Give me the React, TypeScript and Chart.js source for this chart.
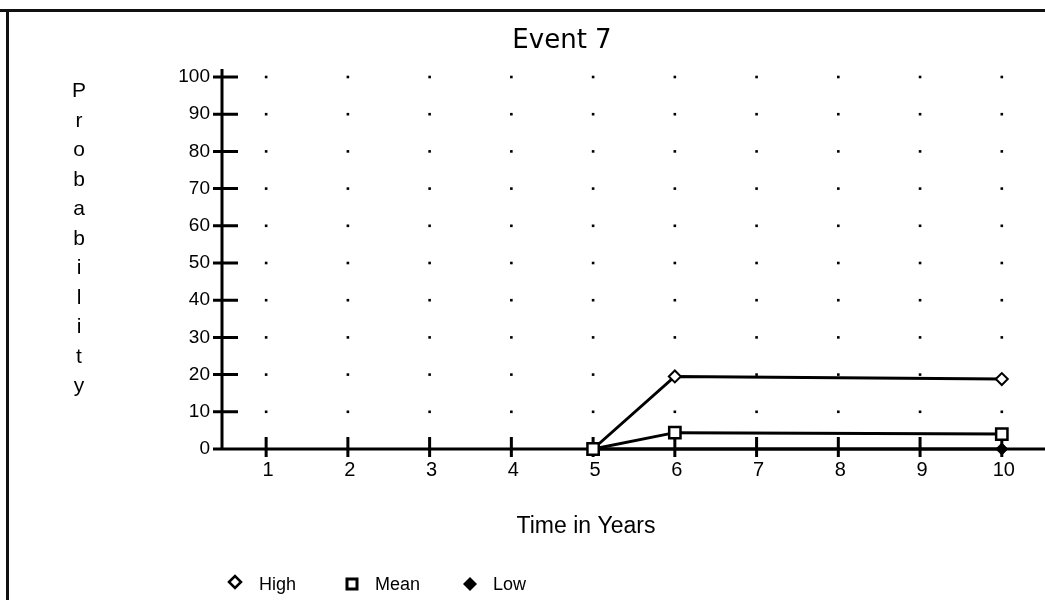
import React, { useEffect, useRef } from 'react';
import { Chart, registerables } from 'chart.js';

Chart.register(...registerables);

const years = [5, 6, 10];
const highValues = [0, 19.5, 18.8];
const meanValues = [0, 4.4, 4.0];
const lowValues = [0, 0, 0];
const xTicks = [1, 2, 3, 4, 5, 6, 7, 8, 9, 10];
const yTicks = [0, 10, 20, 30, 40, 50, 60, 70, 80, 90, 100];
const titleText = 'Event 7';
const yAxisLabel = 'Probability';
const xAxisLabel = 'Time in Years';
const seriesNames = ['High', 'Mean', 'Low'];

const SANS = '"Liberation Sans", Arial, sans-serif';

const decor = {
  id: 'decor',
  beforeDraw(chart: any) {
    const ctx = chart.ctx;
    const xs = chart.scales.x;
    const ys = chart.scales.y;
    ctx.save();
    ctx.fillStyle = '#fff';
    ctx.fillRect(0, 0, chart.width, chart.height);
    // frame
    ctx.fillStyle = '#111';
    ctx.fillRect(0, 9, chart.width, 3);
    ctx.fillRect(6, 9, 3, chart.height - 9);
    // dotted grid
    ctx.fillStyle = '#000';
    for (const xv of xTicks) {
      for (const yv of yTicks) {
        if (yv === 0) continue;
        const px = xs.getPixelForValue(xv);
        const py = ys.getPixelForValue(yv);
        ctx.fillRect(px - 1.3, py - 1.3, 2.6, 2.6);
      }
    }
    // axes
    const x0 = xs.left;
    const y0 = ys.bottom;
    ctx.strokeStyle = '#000';
    ctx.lineWidth = 3;
    ctx.beginPath();
    ctx.moveTo(x0, ys.top - 8);
    ctx.lineTo(x0, y0);
    ctx.moveTo(x0 - 9, y0);
    ctx.lineTo(chart.width, y0);
    for (const yv of yTicks) {
      const py = ys.getPixelForValue(yv);
      ctx.moveTo(x0 - 9, py);
      ctx.lineTo(x0 + 16, py);
    }
    for (const xv of xTicks) {
      const px = xs.getPixelForValue(xv);
      ctx.moveTo(px, y0 - 12);
      ctx.lineTo(px, y0 + 8);
    }
    ctx.stroke();

    // title
    ctx.fillStyle = '#000';
    ctx.textAlign = 'center';
    ctx.textBaseline = 'alphabetic';
    ctx.font = '26px "DejaVu Sans", sans-serif';
    ctx.fillText(titleText, 562, 48);

    // stacked y label
    ctx.font = '21px ' + SANS;
    const letters = yAxisLabel.split('');
    letters.forEach((ch, i) => {
      ctx.fillText(ch, 79, 97 + i * 29.5);
    });

    // x label
    ctx.font = '23px ' + SANS;
    ctx.fillText(xAxisLabel, 586, 533);

    // legend
    ctx.textAlign = 'left';
    ctx.font = '18px ' + SANS;
    const legendX = [235, 352, 470];
    const textX = [259, 375, 493];
    // High: open diamond
    ctx.lineWidth = 2.5;
    ctx.strokeStyle = '#000';
    ctx.beginPath();
    ctx.moveTo(legendX[0] - 6, 582);
    ctx.lineTo(legendX[0], 576);
    ctx.lineTo(legendX[0] + 6, 582);
    ctx.lineTo(legendX[0], 588);
    ctx.closePath();
    ctx.stroke();
    // Mean: open square
    ctx.lineWidth = 3;
    ctx.strokeRect(legendX[1] - 5, 579, 10, 10);
    // Low: filled diamond
    ctx.beginPath();
    ctx.moveTo(legendX[2] - 7, 584);
    ctx.lineTo(legendX[2], 577);
    ctx.lineTo(legendX[2] + 7, 584);
    ctx.lineTo(legendX[2], 591);
    ctx.closePath();
    ctx.fill();
    seriesNames.forEach((n, i) => ctx.fillText(n, textX[i], 590));
    ctx.restore();
  },
};

export default function App() {
  const ref = useRef<HTMLCanvasElement | null>(null);
  useEffect(() => {
    if (!ref.current) return;
    const chart = new Chart(ref.current, {
      type: 'line',
      data: {
        datasets: [
          {
            label: seriesNames[0],
            data: years.map((x, i) => ({ x, y: highValues[i] })),
            borderColor: '#000',
            borderWidth: 3,
            pointStyle: 'rectRot',
            pointRadius: 6,
            pointBackgroundColor: '#fff',
            pointBorderColor: '#000',
            pointBorderWidth: 2,
            tension: 0,
            clip: false,
            order: 1,
          },
          {
            label: seriesNames[1],
            data: years.map((x, i) => ({ x, y: meanValues[i] })),
            borderColor: '#000',
            borderWidth: 3,
            pointStyle: 'rect',
            pointRadius: 8,
            pointBackgroundColor: '#fff',
            pointBorderColor: '#000',
            pointBorderWidth: 2.5,
            tension: 0,
            clip: false,
            order: 0,
          },
          {
            label: seriesNames[2],
            data: years.map((x, i) => ({ x, y: lowValues[i] })),
            borderColor: '#000',
            borderWidth: 3,
            pointStyle: 'rectRot',
            pointRadius: [0, 0, 6],
            pointBackgroundColor: '#000',
            pointBorderColor: '#000',
            pointBorderWidth: 1,
            tension: 0,
            clip: false,
            order: 2,
          },
        ],
      },
      options: {
        animation: false,
        responsive: false,
        layout: { padding: { top: 77, right: 0, left: 0, bottom: 0 } },
        plugins: {
          legend: { display: false },
          title: { display: false },
          tooltip: { enabled: false },
        },
        scales: {
          x: {
            type: 'linear',
            min: 0.46,
            max: 10.40,
            grid: { display: false, drawTicks: false },
            border: { display: false },
            afterBuildTicks: (s: any) => {
              s.ticks = xTicks.map((v) => ({ value: v }));
            },
            afterFit: (s: any) => {
              s.height = 151;
            },
            ticks: {
              color: '#000',
              font: { family: SANS, size: 20 },
              padding: 9,
              labelOffset: 2,
              maxRotation: 0,
              autoSkip: false,
            },
          },
          y: {
            type: 'linear',
            min: 0,
            max: 100,
            grid: { display: false, drawTicks: false },
            border: { display: false },
            afterBuildTicks: (s: any) => {
              s.ticks = yTicks.map((v) => ({ value: v }));
            },
            afterFit: (s: any) => {
              s.width = 222;
            },
            ticks: {
              color: '#000',
              font: { family: SANS, size: 19 },
              padding: 12,
              autoSkip: false,
            },
          },
        },
      },
      plugins: [decor],
    } as any);
    return () => chart.destroy();
  }, []);
  return (
    <div style={{ position: 'absolute', left: 0, top: 0, width: 1045, height: 600 }}>
      <canvas ref={ref} width={1045} height={600} style={{ width: 1045, height: 600 }} />
    </div>
  );
}
